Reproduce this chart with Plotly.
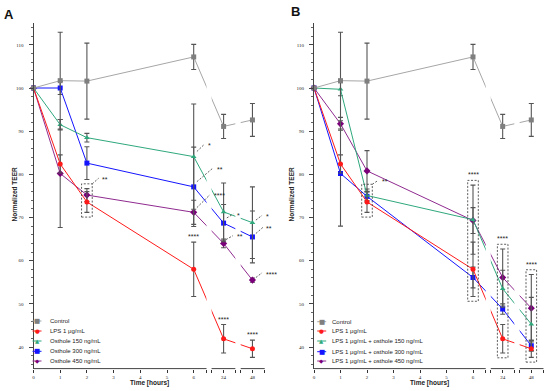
import plotly.graph_objects as go

W, H = 550, 391

# ---------------- data ----------------
times = [0, 1, 2, 6, 24, 48]
tick_times = [0, 1, 2, 3, 4, 5, 6, 24, 48]
tick_labels = ["0", "1", "2", "3", "4", "5", "6", "24", "48"]
y_ticks = [40, 50, 60, 70, 80, 90, 100, 110]

control = [100, 101.7, 101.6, 107.2, 91.1, 92.6]
control_err = [0, 11.2, 8.8, 2.9, 2.8, 3.8]
lps = [100, 82.4, 73.6, 58.0, 41.9, 39.6]
lps_err = [0, 2.1, 2.4, 6.3, 3.3, 2.0]

ost150 = [100, 91.5, 88.5, 84.1, 71.3, 68.8]
ost150_err = [0, 1.2, 1.0, 12.2, 6.7, 8.3]
ost300 = [100, 100.0, 82.6, 77.1, 68.7, 65.5]
ost300_err = [0, 1.5, 3.8, 9.2, 4.3, 6.0]
ost450 = [100, 80.2, 75.2, 71.2, 64.0, 55.5]
ost450_err = [0, 12.5, 1.5, 2.8, 1.0, 0.5]

lps_ost150 = [100, 99.7, 75.1, 69.5, 53.5, 45.3]
lps_ost150_err = [0, 1.5, 1.5, 8.0, 4.3, 6.2]
lps_ost300 = [100, 80.2, 74.9, 56.1, 48.8, 40.3]
lps_ost300_err = [0, 12.2, 1.0, 2.4, 1.2, 1.2]
lps_ost450 = [100, 91.7, 80.8, 69.3, 56.1, 49.0]
lps_ost450_err = [0, 1.5, 4.7, 3.0, 6.6, 7.8]

names_A = ["Control", "LPS 1 μg/mL", "Osthole 150 ng/mL", "Osthole 300 ng/mL", "Osthole 450 ng/mL"]
names_B = ["Control", "LPS 1 μg/mL", "LPS 1 μg/mL + osthole 150 ng/mL",
           "LPS 1 μg/mL + osthole 300 ng/mL", "LPS 1 μg/mL + osthole 450 ng/mL"]

# ---------------- broken time axis ----------------
BREAK_POS = {24: 7.12, 48: 8.2}
SEGMENTS = [(0, 6.48), (6.67, 7.56), (7.76, 8.66)]


def xpos(t):
    return BREAK_POS.get(t, t)


X = [xpos(t) for t in times]

GRAY_L, GRAY_M = "#a6a6a6", "#7f7f7f"
RED = "#ff1a1a"
GREEN = "#2fa87c"
BLUE = "#1414ff"
PURPLE_L, PURPLE = "#8f2a8f", "#7a007a"
ERR = "#555555"

styles = [  # line colour, marker colour, symbol, size, legend glyph
    (GRAY_L, GRAY_M, "square", 5, "■"),
    (RED, RED, "circle", 5, "●"),
    (GREEN, GREEN, "triangle-up", 5, "▲"),
    (BLUE, BLUE, "square", 5, "■"),
    (PURPLE_L, PURPLE, "diamond", 5.5, "◆"),
]

fig = go.Figure()
shapes, annotations = [], []

Y_DOM = [1 - 368.6 / H, 1 - 23.25 / H]

panels = [
    dict(xa="x", ya="y", xaxis="xaxis", yaxis="yaxis",
         x0px=33.5, pph=26.7, xend=275, names=names_A,
         series=[(control, control_err), (lps, lps_err), (ost150, ost150_err),
                 (ost300, ost300_err), (ost450, ost450_err)],
         leg_mark=37, leg_text=48, leg_rows=[321, 331, 341, 351.3, 361],
         letter="A", letter_xy=(8.5, 14.5), ylab_x=14, xlab_x=149.5),
    dict(xa="x2", ya="y2", xaxis="xaxis2", yaxis="yaxis2",
         x0px=314, pph=26.5, xend=550, names=names_B,
         series=[(control, control_err), (lps, lps_err), (lps_ost150, lps_ost150_err),
                 (lps_ost300, lps_ost300_err), (lps_ost450, lps_ost450_err)],
         leg_mark=321.7, leg_text=330, leg_rows=[321.7, 331, 341, 351.7, 361],
         letter="B", letter_xy=(295, 11), ylab_x=291, xlab_x=429),
]

layout_axes = {}
for p in panels:
    # draw order: control last so it sits on top at t = 0
    order = [4, 3, 2, 1, 0]
    for k in order:
        vals, errs = p["series"][k]
        lc, mc, sym, sz, _ = styles[k]
        fig.add_trace(go.Scatter(
            x=X, y=vals, name=p["names"][k], mode="lines+markers",
            xaxis=p["xa"], yaxis=p["ya"], showlegend=False, cliponaxis=False,
            line=dict(color=lc, width=1.0),
            marker=dict(color=mc, symbol=sym, size=sz, line=dict(width=0)),
            error_y=dict(type="data", array=errs, color=ERR, thickness=1.1, width=2.5),
        ))

    xr = (p["xend"] - p["x0px"]) / p["pph"]
    tv = [xpos(t) for t in tick_times] + [s for seg in SEGMENTS for s in seg]
    tt = tick_labels + [""] * 6
    layout_axes[p["xaxis"]] = dict(
        domain=[p["x0px"] / W, p["xend"] / W], range=[0, xr], anchor=p["ya"],
        showgrid=False, zeroline=False, showline=False,
        tickmode="array", tickvals=tv, ticktext=tt, ticks="outside", ticklen=3,
        tickwidth=1, tickcolor="#333",
        tickfont=dict(size=5, color="#222", family="Liberation Serif"),
    )
    layout_axes[p["yaxis"]] = dict(
        domain=Y_DOM, range=[35, 115], anchor=p["xa"],
        showgrid=False, zeroline=False, showline=True, linecolor="#444", linewidth=1,
        tickmode="array", tickvals=y_ticks, ticks="outside", ticklen=4,
        tickwidth=1, tickcolor="#444", ticklabelstandoff=4,
        tickfont=dict(size=5, color="#222", family="Liberation Serif"),
        minor=dict(dtick=2, ticks="outside", ticklen=2, tickcolor="#666", tickwidth=0.8),
    )

    ydom = p["ya"] + " domain"
    # white gaps where the lines cross the axis breaks
    for (a, b) in [(SEGMENTS[0][1], SEGMENTS[1][0]), (SEGMENTS[1][1], SEGMENTS[2][0])]:
        shapes.append(dict(type="rect", xref=p["xa"], yref=ydom, x0=a, x1=b, y0=0.0, y1=1.0,
                           fillcolor="white", line=dict(width=0), layer="above"))
    # broken x axis line
    for (a, b) in SEGMENTS:
        shapes.append(dict(type="line", xref=p["xa"], yref=ydom, x0=a, x1=b, y0=0, y1=0,
                           line=dict(color="#444", width=1), layer="above"))

    # legend (manual, compact)
    for k, row in enumerate(p["leg_rows"]):
        lc, mc, sym, sz, glyph = styles[k]
        yy = 1 - row / H
        shapes.append(dict(type="line", xref="paper", yref="paper",
                           x0=(p["leg_mark"] - 4.5) / W, x1=(p["leg_mark"] + 4.5) / W,
                           y0=yy, y1=yy, line=dict(color=lc, width=1)))
        annotations.append(dict(xref="paper", yref="paper", x=p["leg_mark"] / W, y=yy,
                                text=glyph, showarrow=False, xanchor="center", yanchor="middle",
                                font=dict(size=5.5 if glyph != "■" else 6.5, color=mc, family="DejaVu Sans")))
        annotations.append(dict(xref="paper", yref="paper", x=p["leg_text"] / W, y=yy,
                                text=p["names"][k], showarrow=False, xanchor="left", yanchor="middle",
                                font=dict(size=6, color="#222", family="Liberation Sans")))

    # panel letter and axis titles
    annotations.append(dict(xref="paper", yref="paper", x=p["letter_xy"][0] / W, y=1 - p["letter_xy"][1] / H,
                            text="<b>%s</b>" % p["letter"], showarrow=False, xanchor="center", yanchor="middle",
                            font=dict(size=13, color="#111", family="Liberation Sans")))
    annotations.append(dict(xref="paper", yref="paper", x=p["ylab_x"] / W, y=1 - 194.5 / H,
                            text="<b>Normalized TEER</b>", textangle=-90, showarrow=False,
                            xanchor="center", yanchor="middle",
                            font=dict(size=6.5, color="#222", family="Liberation Sans")))
    annotations.append(dict(xref="paper", yref="paper", x=p["xlab_x"] / W, y=1 - 382.7 / H,
                            text="<b>Time [hours]</b>", showarrow=False,
                            xanchor="center", yanchor="middle",
                            font=dict(size=6.5, color="#222", family="Liberation Sans")))

STAR_FONT = dict(size=7, color="#222", family="Liberation Sans")
DASH = dict(color="#333", width=0.8, dash="2px,1.6px")


def sig_line(p, vals, t, label, start, end):
    i = times.index(t)
    x0, y0 = xpos(t), vals[i]
    shapes.append(dict(type="line", xref=p["xa"], yref=p["ya"],
                       x0=x0 + start[0], y0=y0 + start[1], x1=x0 + end[0], y1=y0 + end[1],
                       line=DASH, layer="above"))
    annotations.append(dict(xref=p["xa"], yref=p["ya"], x=x0 + end[0] + 0.06, y=y0 + end[1] - 0.3,
                            text=label, showarrow=False, xanchor="left", yanchor="middle", font=STAR_FONT))


def sig_top(p, vals, errs, t, label):
    i = times.index(t)
    annotations.append(dict(xref=p["xa"], yref=p["ya"], x=xpos(t), y=vals[i] + errs[i] + 1.25,
                            text=label, showarrow=False, xanchor="center", yanchor="middle", font=STAR_FONT))


def sig_box(p, members, t, label, pad=1.1, half=0.2, line_label=None):
    i = times.index(t)
    top = max(v[i] + e[i] for v, e in members) + pad
    bot = min(v[i] - e[i] for v, e in members) - pad
    x = xpos(t)
    shapes.append(dict(type="rect", xref=p["xa"], yref=p["ya"], x0=x - half, x1=x + half,
                       y0=bot, y1=top, line=DASH, layer="above"))
    if line_label:
        dx, dy = line_label
        shapes.append(dict(type="line", xref=p["xa"], yref=p["ya"], x0=x + half, y0=top,
                           x1=x + half + dx, y1=top + dy, line=DASH, layer="above"))
        annotations.append(dict(xref=p["xa"], yref=p["ya"], x=x + half + dx + 0.06, y=top + dy - 0.3,
                                text=label, showarrow=False, xanchor="left", yanchor="middle", font=STAR_FONT))
    else:
        annotations.append(dict(xref=p["xa"], yref=p["ya"], x=x, y=top + 1.25,
                                text=label, showarrow=False, xanchor="center", yanchor="middle",
                                font=STAR_FONT))


A, B = panels
# panel A significance marks
sig_box(A, [(lps, lps_err), (ost450, ost450_err)], 2, "**", line_label=(0.24, 1.3))
sig_line(A, ost150, 6, "*", (0.12, 1.2), (0.39, 2.8))
sig_line(A, ost300, 6, "**", (0.12, 1.2), (0.73, 4.4))
sig_line(A, ost450, 6, "****", (0.12, 1.1), (0.61, 4.1))
sig_line(A, ost300, 24, "*", (0.12, 1.2), (0.36, 2.1))
sig_line(A, ost450, 24, "**", (0.09, 0.9), (0.35, 1.8))
sig_line(A, ost150, 48, "*", (0.13, 0.6), (0.36, 1.7))
sig_line(A, ost300, 48, "**", (0.13, 0.8), (0.39, 2.2))
sig_line(A, ost450, 48, "****", (0.13, 0.6), (0.36, 1.7))
for t in [6, 24, 48]:
    sig_top(A, lps, lps_err, t, "****")

# panel B significance marks
sig_box(B, [(lps, lps_err), (lps_ost150, lps_ost150_err), (lps_ost300, lps_ost300_err)], 2, "**",
        line_label=(0.22, 0.9))
allB = [(lps, lps_err), (lps_ost150, lps_ost150_err), (lps_ost300, lps_ost300_err),
        (lps_ost450, lps_ost450_err)]
for t in [6, 24, 48]:
    sig_box(B, allB, t, "****")

fig.update_layout(
    width=W, height=H, margin=dict(l=0, r=0, t=0, b=0),
    paper_bgcolor="white", plot_bgcolor="white", showlegend=False,
    font=dict(family="Liberation Sans", color="#222"),
    shapes=shapes, annotations=annotations, **layout_axes,
)

fig.write_html("out.html", config={"displayModeBar": False},
               post_script="document.body.style.margin='0';document.body.style.overflow='hidden';")
